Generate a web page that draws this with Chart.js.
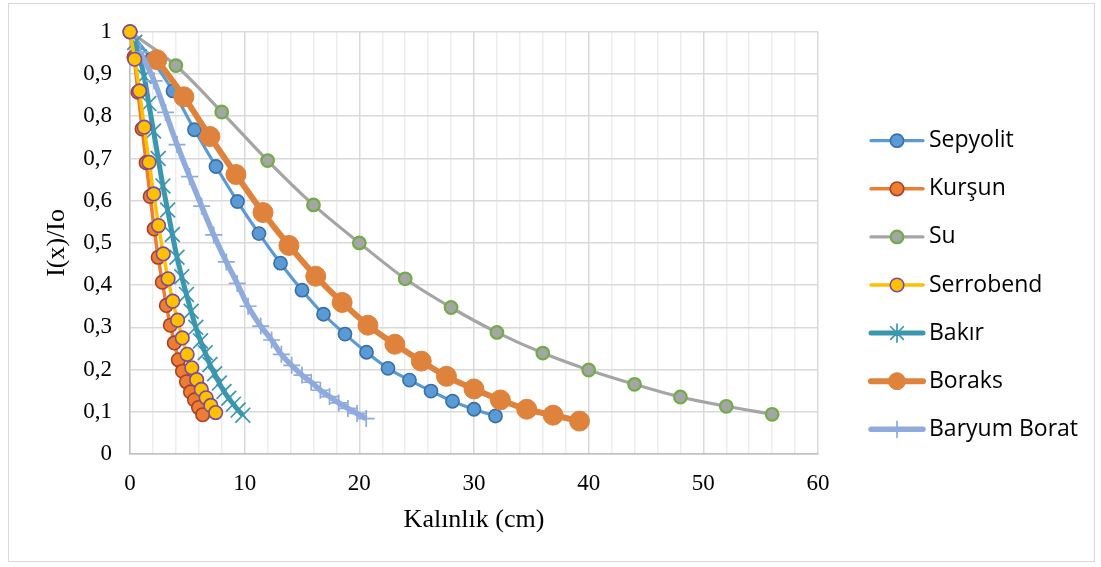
<!DOCTYPE html>
<html>
<head>
<meta charset="utf-8">
<script src="https://cdn.jsdelivr.net/npm/chart.js@4/dist/chart.umd.min.js"></script>
<style>
html,body{margin:0;padding:0;background:#fff;}
#wrap{position:relative;width:1101px;height:567px;overflow:hidden;}
#frame{position:absolute;left:8px;top:3px;width:1085px;height:557px;border:1px solid #D9D9D9;pointer-events:none;}
canvas{position:absolute;left:0;top:0;}
</style>
</head>
<body>
<div id="wrap"><canvas id="c" width="1101" height="567"></canvas><div id="frame"></div></div>
<script>
// ---- data ----
const seriesNames = ['Sepyolit', 'Kurşun', 'Su', 'Serrobend', 'Bakır', 'Boraks', 'Baryum Borat'];

const sepyolitX = [0, 1.875, 3.75, 5.625, 7.5, 9.375, 11.25, 13.125, 15, 16.875, 18.75, 20.625, 22.5, 24.375, 26.25, 28.125, 30, 31.875];
const sepyolitY = [1, 0.935, 0.86, 0.768, 0.681, 0.598, 0.522, 0.452, 0.388, 0.331, 0.284, 0.241, 0.203, 0.175, 0.149, 0.125, 0.106, 0.09];

const kursunX = [0, 0.35, 0.70, 1.06, 1.41, 1.76, 2.11, 2.46, 2.82, 3.17, 3.52, 3.87, 4.22, 4.58, 4.93, 5.28, 5.63, 5.98, 6.34];
const kursunY = [1, 0.94, 0.857, 0.77, 0.69, 0.61, 0.533, 0.466, 0.407, 0.352, 0.305, 0.263, 0.223, 0.196, 0.171, 0.147, 0.128, 0.11, 0.093];

const suX = [0, 4, 8, 12, 16, 20, 24, 28, 32, 36, 40, 44, 48, 52, 56];
const suY = [1, 0.92, 0.81, 0.695, 0.59, 0.5, 0.415, 0.347, 0.288, 0.239, 0.199, 0.165, 0.135, 0.113, 0.094];

const serrobendX = [0, 0.41, 0.83, 1.24, 1.66, 2.07, 2.49, 2.9, 3.32, 3.73, 4.15, 4.56, 4.98, 5.39, 5.81, 6.22, 6.64, 7.05, 7.47];
const serrobendY = [1, 0.935, 0.86, 0.774, 0.691, 0.616, 0.541, 0.474, 0.415, 0.362, 0.317, 0.275, 0.236, 0.204, 0.176, 0.153, 0.133, 0.115, 0.098];

const bakirX = [0.41, 0.82, 1.23, 1.64, 2.05, 2.46, 2.87, 3.28, 3.69, 4.1, 4.51, 4.92, 5.33, 5.74, 6.15, 6.56, 6.97, 7.38, 7.79, 8.2, 8.61, 9.02, 9.43, 9.84];
const bakirY = [0.975, 0.94, 0.895, 0.83, 0.765, 0.70, 0.635, 0.578, 0.52, 0.466, 0.42, 0.378, 0.338, 0.30, 0.268, 0.24, 0.212, 0.19, 0.168, 0.148, 0.132, 0.118, 0.104, 0.092];

const boraksX = [2.35, 4.7, 6.97, 9.24, 11.6, 13.86, 16.2, 18.5, 20.75, 23.1, 25.4, 27.6, 30.0, 32.3, 34.6, 36.9, 39.2];
const boraksY = [0.934, 0.846, 0.752, 0.662, 0.572, 0.494, 0.421, 0.359, 0.305, 0.26, 0.22, 0.184, 0.154, 0.128, 0.106, 0.092, 0.078];

const baryumX = [0.9, 2.1, 3.1, 4.1, 5.2, 6.25, 7.3, 8.4, 9.35, 10.3, 11.4, 12.35, 13.2, 14.1, 15.0, 15.8, 16.6, 17.4, 18.2, 19.0, 19.8, 20.6];
const baryumY = [0.952, 0.884, 0.809, 0.733, 0.657, 0.587, 0.519, 0.455, 0.404, 0.35, 0.303, 0.27, 0.236, 0.21, 0.187, 0.17, 0.151, 0.136, 0.121, 0.108, 0.096, 0.084];

const xTitle = 'Kalınlık (cm)';
const yTitle = 'I(x)/Io';
const xMin = 0, xMax = 60, xStep = 2, xLabelEvery = 10;
const yMin = 0, yMax = 1, yStep = 0.1;

// ---- build ----
const allX = [sepyolitX, kursunX, suX, serrobendX, bakirX, boraksX, baryumX];
const allY = [sepyolitY, kursunY, suY, serrobendY, bakirY, boraksY, baryumY];

const looks = [
  {line:'#5B9BD5', lw:3.2, ps:'circle',   r:6.6, fill:'#5B9BD5', bd:'#3A6FA8', bw:1.6, order:6, lps:'circle'},
  {line:'#ED7D31', lw:3.5, ps:'circle',   r:6.8, fill:'#ED7D31', bd:'#A8402C', bw:1.6, order:5, lps:'circle'},
  {line:'#A5A5A5', lw:3.2, ps:'circle',   r:6.3, fill:'#A5A5A5', bd:'#70AD47', bw:2.2, order:4, lps:'circle'},
  {line:'#FFC000', lw:3.5, ps:'circle',   r:6.8, fill:'#FFC000', bd:'#7A4C9E', bw:1.6, order:0, lps:'circle'},
  {line:'#3B97B0', lw:5,   ps:'crossRot', r:10.5, fill:'#3B97B0', bd:'#3B97B0', bw:1.7, order:3, lps:'star'},
  {line:'#DE823C', lw:6,   ps:'circle',   r:10,  fill:'#DE823C', bd:'#DE823C', bw:1,   order:2, lps:'circle'},
  {line:'#8FAADC', lw:5.5, ps:'cross',    r:8.5, fill:'#8FAADC', bd:'#8FAADC', bw:1.7, order:1, lps:'cross'}
];

const datasets = seriesNames.map((name, i) => ({
  label: name,
  data: allX[i].map((x, k) => ({x: x, y: allY[i][k]})),
  showLine: true,
  clip: false,
  borderColor: looks[i].line,
  borderWidth: looks[i].lw,
  backgroundColor: looks[i].fill,
  pointStyle: looks[i].ps,
  pointRadius: looks[i].r,
  pointBackgroundColor: looks[i].fill,
  pointBorderColor: looks[i].bd,
  pointBorderWidth: looks[i].bw,
  pointHoverRadius: looks[i].r,
  cubicInterpolationMode: 'monotone',
  order: looks[i].order
}));

const legendPlugin = {
  id: 'excelLegend',
  afterDraw(chart) {
    const ctx = chart.ctx;
    chart.data.datasets.forEach((ds, i) => {
      const y = 140.7 + i * 48.1;
      ctx.save();
      ctx.strokeStyle = ds.borderColor;
      ctx.lineWidth = ds.borderWidth;
      ctx.lineCap = 'round';
      ctx.beginPath(); ctx.moveTo(871, y); ctx.lineTo(923, y); ctx.stroke();
      ctx.fillStyle = ds.pointBackgroundColor;
      ctx.strokeStyle = ds.pointBorderColor;
      ctx.lineWidth = ds.pointBorderWidth;
      const r = looks[i].lps === 'star' ? 9 : (looks[i].lps === 'cross' ? 8 : Math.min(ds.pointRadius, 8.5));
      const opts = {pointStyle: looks[i].lps, radius: r, borderWidth: ds.pointBorderWidth, rotation: 0};
      if (Chart.helpers && Chart.helpers.drawPoint) {
        Chart.helpers.drawPoint(ctx, opts, 897, y);
      }
      ctx.fillStyle = '#000';
      ctx.font = '23px "Open Sans"';
      ctx.textBaseline = 'middle';
      ctx.textAlign = 'left';
      ctx.fillText(ds.label, 929, y);
      ctx.restore();
    });
  }
};

new Chart(document.getElementById('c'), {
  type: 'scatter',
  data: {datasets: datasets},
  plugins: [legendPlugin],
  options: {
    responsive: false,
    devicePixelRatio: 1,
    animation: false,
    events: [],
    layout: {padding: {left: 0, right: 283, top: 31, bottom: 0}},
    plugins: {legend: {display: false}, tooltip: {enabled: false}},
    scales: {
      x: {
        type: 'linear', min: xMin, max: xMax,
        afterFit(scale) { scale.height = 113; },
        ticks: {
          stepSize: xStep, autoSkip: false, maxRotation: 0, padding: 16,
          color: '#000', font: {family: '"Liberation Serif", "Times New Roman", serif', size: 23},
          callback: (v) => (Math.round(v) % xLabelEvery === 0 ? String(Math.round(v)) : '')
        },
        grid: {
          drawTicks: false,
          color: (c) => (c.tick && Math.round(c.tick.value) % xLabelEvery === 0 ? '#D9D9D9' : '#EDEDED'),
          lineWidth: 1.5
        },
        border: {color: '#BFBFBF', width: 1.5},
        title: {display: true, text: xTitle, color: '#000',
          font: {family: '"Liberation Serif", "Times New Roman", serif', size: 26},
          padding: {top: 0, bottom: 31}}
      },
      y: {
        type: 'linear', min: yMin, max: yMax,
        afterFit(scale) { scale.width = 130; },
        ticks: {
          stepSize: yStep, padding: 18,
          color: '#000', font: {family: '"Liberation Serif", "Times New Roman", serif', size: 23},
          callback: (v) => {
            const r = Math.round(v * 10) / 10;
            if (r === 0) return '0';
            if (r === 1) return '1';
            return r.toFixed(1).replace('.', ',');
          }
        },
        grid: {drawTicks: false, color: '#D9D9D9', lineWidth: 1.5},
        border: {color: '#BFBFBF', width: 1.5},
        title: {display: true, text: yTitle, color: '#000',
          font: {family: '"Liberation Serif", "Times New Roman", serif', size: 26},
          padding: {top: 42, bottom: 0}}
      }
    }
  }
});
</script>
</body>
</html>
